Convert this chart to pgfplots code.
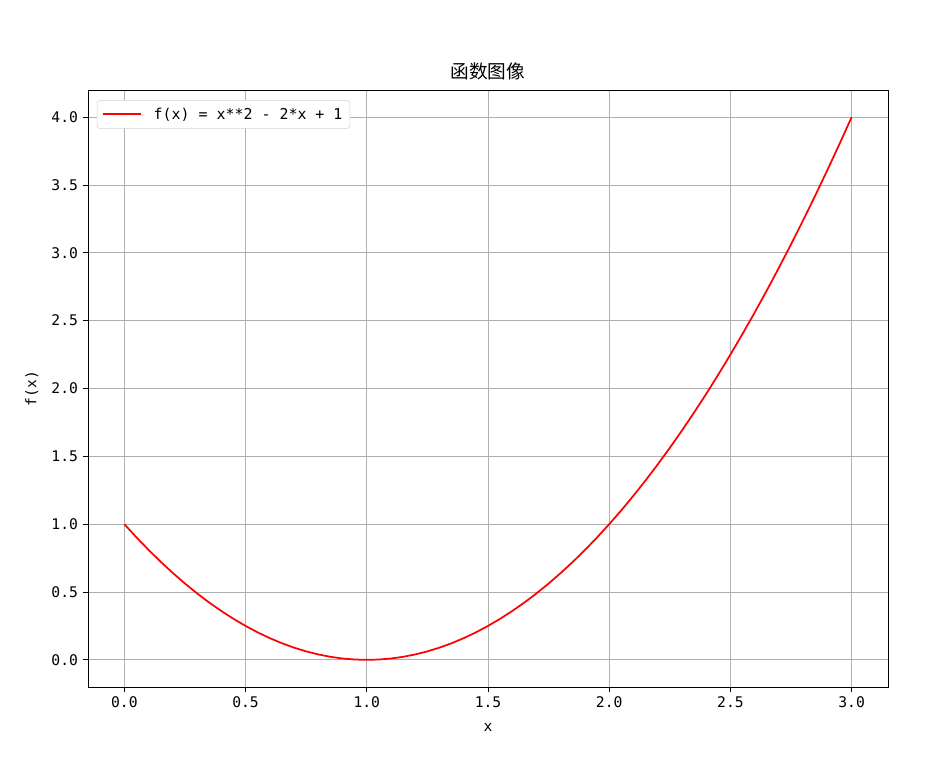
\documentclass[border=0pt]{standalone}
\usepackage{fontspec}
\setmainfont{Noto Sans CJK SC}
\newfontfamily\monof{DejaVu Sans Mono}
\usepackage{pgfplots}
\pgfplotsset{compat=1.18}
\begin{document}
\begin{tikzpicture}[x=1pt,y=1pt]
\useasboundingbox (-66,-52.5) rectangle (639,515.25);
\begin{axis}[
  at={(0,0)}, anchor=south west,
  scale only axis, width=600pt, height=447.75pt,
  xmin=-0.15, xmax=3.15, ymin=-0.2, ymax=4.2,
  xtick={0,0.5,...,3}, ytick={0,0.5,...,4},
  /pgf/number format/assume math mode=true,
  /pgf/number format/fixed, /pgf/number format/zerofill, /pgf/number format/precision=1,
  tick label style={font=\monof\fontsize{11}{12}\selectfont},
  tick align=outside, tick pos=left, major tick length=4pt,
  tick style={black, line width=0.6pt},
  axis line style={black, line width=0.6pt},
  grid=major, major grid style={color=black!31, line width=0.6pt},
  xlabel={x}, ylabel={f(x)},
  label style={font=\monof\fontsize{11}{12}\selectfont},
  xlabel style={yshift=-5pt},
  ylabel style={yshift=3pt},
  title={函数图像},
  title style={font=\fontsize{14}{16}\selectfont, yshift=-2pt},
  legend style={font=\monof\fontsize{11.2}{12}\selectfont, draw=black!18, rounded corners=2pt, at={(0.011,0.983)}, anchor=north west, inner sep=3.5pt, row sep=0pt},
  legend cell align=left,
  legend image code/.code={\draw[red, line width=1.5pt] (0cm,0cm) -- (1.0cm,0cm);},
]
\addplot[red, line width=1.3pt] coordinates {
(0,1) (0.05,0.9025) (0.1,0.81) (0.15,0.7225) (0.2,0.64) (0.25,0.5625) (0.3,0.49) (0.35,0.4225)
(0.4,0.36) (0.45,0.3025) (0.5,0.25) (0.55,0.2025) (0.6,0.16) (0.65,0.1225) (0.7,0.09) (0.75,0.0625)
(0.8,0.04) (0.85,0.0225) (0.9,0.01) (0.95,0.0025) (1,0) (1.05,0.0025) (1.1,0.01) (1.15,0.0225)
(1.2,0.04) (1.25,0.0625) (1.3,0.09) (1.35,0.1225) (1.4,0.16) (1.45,0.2025) (1.5,0.25) (1.55,0.3025)
(1.6,0.36) (1.65,0.4225) (1.7,0.49) (1.75,0.5625) (1.8,0.64) (1.85,0.7225) (1.9,0.81) (1.95,0.9025)
(2,1) (2.05,1.1025) (2.1,1.21) (2.15,1.3225) (2.2,1.44) (2.25,1.5625) (2.3,1.69) (2.35,1.8225)
(2.4,1.96) (2.45,2.1025) (2.5,2.25) (2.55,2.4025) (2.6,2.56) (2.65,2.7225) (2.7,2.89) (2.75,3.0625)
(2.8,3.24) (2.85,3.4225) (2.9,3.61) (2.95,3.8025) (3,4)
};
\addlegendentry{\hspace{7pt}f(x) = x**2 - 2*x + 1}
\end{axis}
\end{tikzpicture}
\end{document}
